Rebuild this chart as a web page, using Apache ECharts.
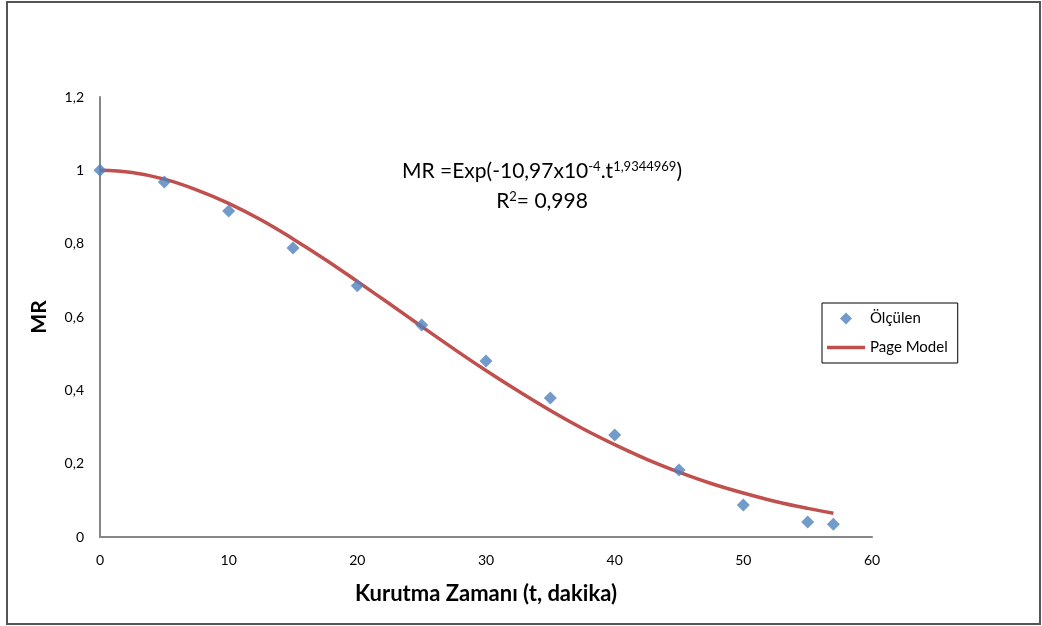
<!DOCTYPE html>
<html><head><meta charset="utf-8">
<script src="https://cdn.jsdelivr.net/npm/echarts@6/dist/echarts.min.js"></script>
<style>html,body{margin:0;padding:0;background:#fff}#c{width:1042px;height:626px}</style>
</head><body><div id="c"></div>
<script>
const measuredT = [0, 5, 10, 15, 20, 25, 30, 35, 40, 45, 50, 55, 57];
const measuredMR = [1.0, 0.968, 0.889, 0.788, 0.685, 0.578, 0.48, 0.379, 0.278, 0.183, 0.087, 0.041, 0.035];
const modelT = [0, 2.5, 5, 7.5, 10, 12.5, 15, 17.5, 20, 22.5, 25, 27.5, 30, 32.5, 35, 37.5, 40, 42.5, 45, 47.5, 50, 52.5, 55, 57];
const modelMR = [1.0, 0.994, 0.976, 0.947, 0.91, 0.865, 0.813, 0.757, 0.697, 0.636, 0.574, 0.513, 0.454, 0.398, 0.345, 0.296, 0.252, 0.212, 0.177, 0.146, 0.12, 0.097, 0.078, 0.065];
const yTickLabels = {'0':'0','0.2':'0,2','0.4':'0,4','0.6':'0,6','0.8':'0,8','1':'1','1.2':'1,2'};

const font = 'Lato, "Open Sans", sans-serif';
const chart = echarts.init(document.getElementById('c'), null, {renderer:'canvas'});
const rich = {
  b:{fontSize:21, fontFamily:font, color:'#000', lineHeight:25, verticalAlign:'bottom'},
  s:{fontSize:13, fontFamily:font, color:'#000', lineHeight:25, verticalAlign:'top', padding:[3,0,0,0]}
};
chart.setOption({
  animation:false,
  backgroundColor:'#fff',
  grid:{left:100, right:170, top:97, bottom:89},
  xAxis:{type:'value', min:0, max:60, interval:10,
    axisLine:{lineStyle:{color:'#868686', width:2}}, axisTick:{show:false}, splitLine:{show:false},
    axisLabel:{color:'#000', fontSize:14, fontFamily:font, margin:16},
    name:'Kurutma Zamanı (t, dakika)', nameLocation:'middle', nameGap:46,
    nameTextStyle:{color:'#000', fontSize:22, fontWeight:'bold', fontFamily:font}},
  yAxis:{type:'value', min:0, max:1.2, interval:0.2,
    axisLine:{show:true, lineStyle:{color:'#868686', width:2}}, axisTick:{show:false}, splitLine:{show:false},
    axisLabel:{color:'#000', fontSize:14, fontFamily:font, margin:16,
      formatter:v=>yTickLabels[String(Math.round(v*10)/10)] ?? String(v).replace('.',',')},
    name:'MR', nameLocation:'middle', nameGap:50,
    nameTextStyle:{color:'#000', fontSize:21, fontWeight:'bold', fontFamily:font}},
  legend:{orient:'vertical', left:822, top:303, padding:[8,10,8,5], itemGap:14,
    borderColor:'#000', borderWidth:1, itemWidth:38, itemHeight:12, symbolKeepAspect:true,
    textStyle:{color:'#000', fontSize:15, fontFamily:font},
    data:[{name:'Ölçülen', icon:'path://M5,0L10,5L5,10L0,5Z'}, {name:'Page Model', icon:'path://M0,0L38,0L38,3.5L0,3.5Z'}]},
  series:[
    {name:'Page Model', type:'line', data:modelT.map((t,i)=>[t, modelMR[i]]), smooth:0.4, showSymbol:false, symbol:'none',
     lineStyle:{color:'#C0504D', width:3.5}, itemStyle:{color:'#C0504D'}, z:2},
    {name:'Ölçülen', type:'scatter', data:measuredT.map((t,i)=>[t, measuredMR[i]]), symbol:'diamond', symbolSize:13,
     itemStyle:{color:'#4F81BD'}, z:3}
  ],
  graphic:[
    {type:'rect', shape:{x:7, y:2, width:1033, height:622}, style:{fill:null, stroke:'#555', lineWidth:2}, silent:true},
    {type:'text', x:542, y:157, style:{
      text:'{b|MR =Exp(-10,97x10}{s|-4}{b|.t}{s|1,9344969}{b|)}', align:'center', verticalAlign:'top', rich:rich}},
    {type:'text', x:542, y:187, style:{
      text:'{b|R}{s|2}{b|= 0,998}', align:'center', verticalAlign:'top', rich:rich}}
  ]
});
</script></body></html>
